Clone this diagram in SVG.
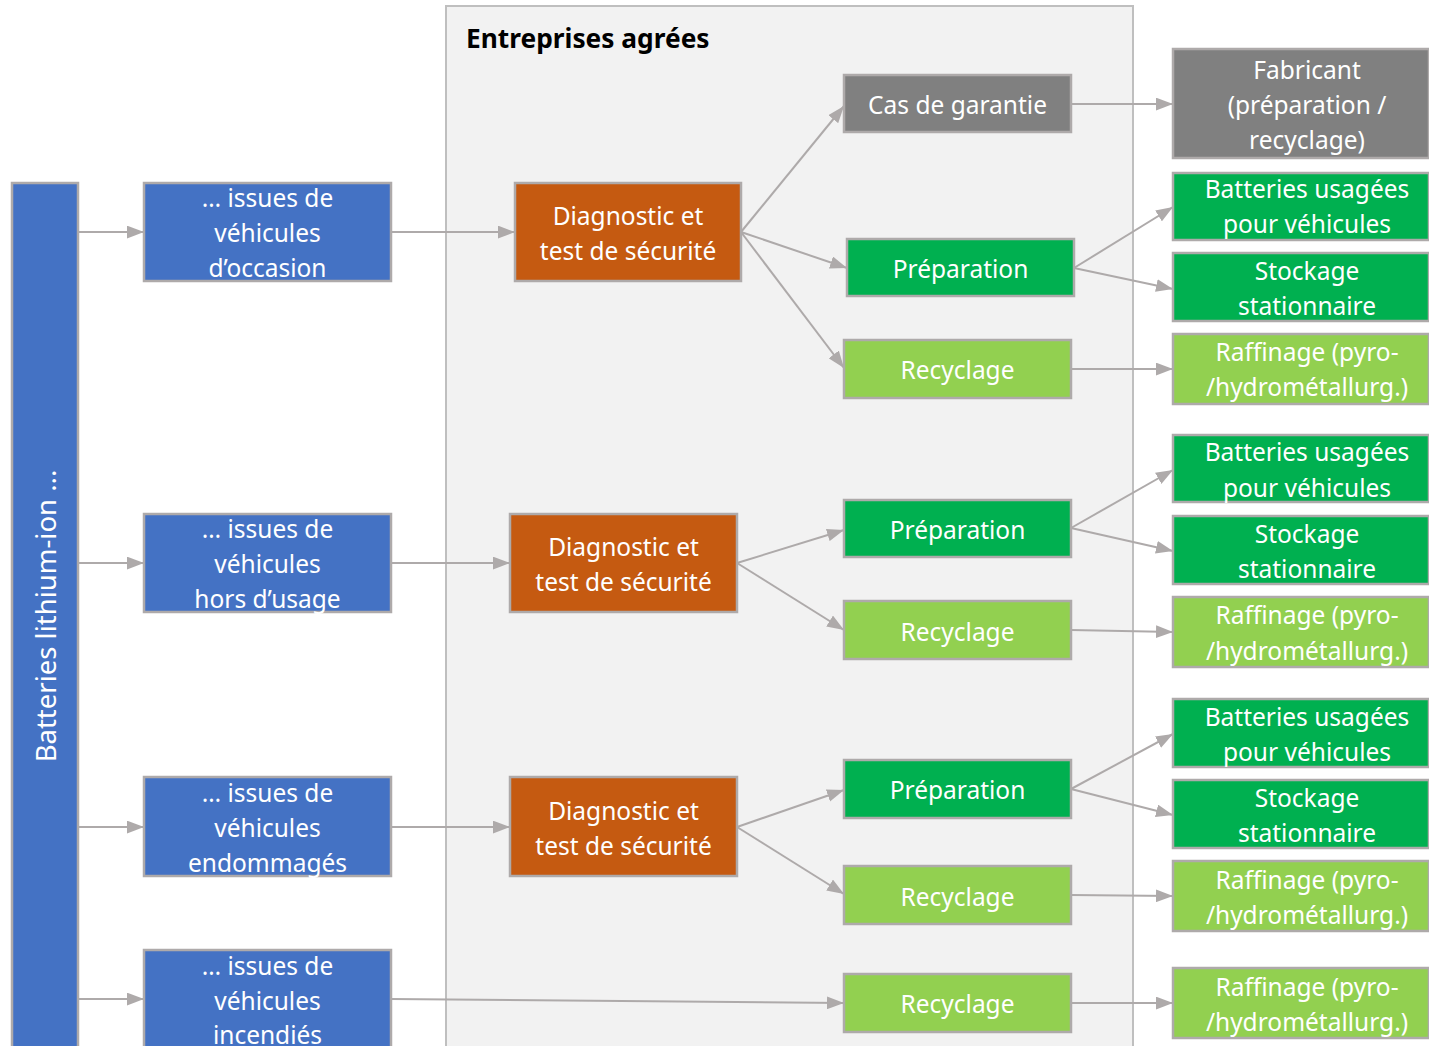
<svg xmlns="http://www.w3.org/2000/svg" width="1429" height="1046" viewBox="0 0 1429 1046">
<defs>
<marker id="ah" viewBox="0 0 16 12" refX="16" refY="6" markerWidth="8.5" markerHeight="6.5" markerUnits="strokeWidth" orient="auto">
<path d="M0,0 L16,6 L0,12 z" fill="#AEAAAA"/>
</marker>
<style>
.n rect{stroke:#AEAAAA;stroke-width:2.5}
.blue{fill:#4472C4}.org{fill:#C55A11}.grn{fill:#00B050}.lg{fill:#92D050}.gry{fill:#808080}
text{font-family:"Noto Sans","Open Sans","Liberation Sans",sans-serif;font-size:24.5px;fill:#FFFFFF;text-anchor:middle}
.title{font-weight:bold;fill:#000000;text-anchor:start;font-size:26.3px}
.rot{font-size:27.5px}
#connectors path{fill:none;stroke:#AEAAAA;stroke-width:2;marker-end:url(#ah)}
</style>
</defs>
<rect width="1429" height="1046" fill="#FFFFFF"/>
<g id="container">
<rect x="446" y="6" width="687" height="1050" fill="#F2F2F2" stroke="#BFBFBF" stroke-width="2"/>
<text class="title" x="466" y="48">Entreprises agrées</text>
</g>
<g id="connectors">
<path d="M78,232 H144"/>
<path d="M78,563 H144"/>
<path d="M78,827 H144"/>
<path d="M78,999 H144"/>
<path d="M391,232 H515"/>
<path d="M391,563 H510"/>
<path d="M391,827 H510"/>
<path d="M391,999 L844,1003"/>
<path d="M741,232 L844,106"/>
<path d="M741,232 L847,268"/>
<path d="M741,232 L844,368"/>
<path d="M737,563 L844,530"/>
<path d="M737,563 L844,630"/>
<path d="M737,827 L844,790"/>
<path d="M737,827 L844,894"/>
<path d="M1071,104 H1173"/>
<path d="M1074,268 L1173,207"/>
<path d="M1074,268 L1173,289"/>
<path d="M1071,369 H1173"/>
<path d="M1071,528 L1173,470"/>
<path d="M1071,528 L1173,551"/>
<path d="M1071,630 L1173,632"/>
<path d="M1071,789 L1173,734"/>
<path d="M1071,789 L1173,815"/>
<path d="M1071,895 L1173,896"/>
<path d="M1071,1003 H1173"/>
</g>
<g id="bar" class="n"><rect class="blue" x="12" y="183" width="66" height="880"/>
<text class="rot" transform="translate(56,616) rotate(-90)">Batteries lithium-ion ...</text></g>
<g id="src1" class="n"><rect class="blue" x="144" y="183" width="247" height="98"/>
<text x="267.5" y="207">… issues de</text><text x="267.5" y="242">véhicules</text><text x="267.5" y="277">d’occasion</text></g>
<g id="src2" class="n"><rect class="blue" x="144" y="514" width="247" height="98"/>
<text x="267.5" y="538">… issues de</text><text x="267.5" y="573">véhicules</text><text x="267.5" y="608">hors d’usage</text></g>
<g id="src3" class="n"><rect class="blue" x="144" y="777" width="247" height="99"/>
<text x="267.5" y="802">… issues de</text><text x="267.5" y="837">véhicules</text><text x="267.5" y="872">endommagés</text></g>
<g id="src4" class="n"><rect class="blue" x="144" y="950" width="247" height="110"/>
<text x="267.5" y="975">… issues de</text><text x="267.5" y="1010">véhicules</text><text x="267.5" y="1044">incendiés</text></g>
<g id="diag1" class="n"><rect class="org" x="515" y="183" width="226" height="98"/>
<text x="628" y="225">Diagnostic et</text><text x="628" y="260">test de sécurité</text></g>
<g id="diag2" class="n"><rect class="org" x="510" y="514" width="227" height="98"/>
<text x="623.5" y="556">Diagnostic et</text><text x="623.5" y="591">test de sécurité</text></g>
<g id="diag3" class="n"><rect class="org" x="510" y="777" width="227" height="99"/>
<text x="623.5" y="820">Diagnostic et</text><text x="623.5" y="855">test de sécurité</text></g>
<g id="garantie" class="n"><rect class="gry" x="844" y="75" width="227" height="57"/>
<text x="957.5" y="114">Cas de garantie</text></g>
<g id="prep1" class="n"><rect class="grn" x="847" y="239" width="227" height="57"/>
<text x="960.5" y="278">Préparation</text></g>
<g id="rec1" class="n"><rect class="lg" x="844" y="340" width="227" height="58"/>
<text x="957.5" y="379">Recyclage</text></g>
<g id="prep2" class="n"><rect class="grn" x="844" y="500" width="227" height="57"/>
<text x="957.5" y="539">Préparation</text></g>
<g id="rec2" class="n"><rect class="lg" x="844" y="601" width="227" height="58"/>
<text x="957.5" y="641">Recyclage</text></g>
<g id="prep3" class="n"><rect class="grn" x="844" y="760" width="227" height="58"/>
<text x="957.5" y="799">Préparation</text></g>
<g id="rec3" class="n"><rect class="lg" x="844" y="866" width="227" height="58"/>
<text x="957.5" y="906">Recyclage</text></g>
<g id="rec4" class="n"><rect class="lg" x="844" y="974" width="227" height="58"/>
<text x="957.5" y="1013">Recyclage</text></g>
<g id="fabricant" class="n"><rect class="gry" x="1173" y="49" width="256" height="109"/>
<text x="1307" y="79">Fabricant</text><text x="1307" y="114">(préparation /</text><text x="1307" y="149">recyclage)</text></g>
<g id="batt1" class="n"><rect class="grn" x="1173" y="173" width="256" height="67"/>
<text x="1307" y="198">Batteries usagées</text><text x="1307" y="233">pour véhicules</text></g>
<g id="stock1" class="n"><rect class="grn" x="1173" y="253" width="256" height="68"/>
<text x="1307" y="280">Stockage</text><text x="1307" y="315">stationnaire</text></g>
<g id="raff1" class="n"><rect class="lg" x="1173" y="334" width="256" height="70"/>
<text x="1307" y="361">Raffinage (pyro-</text><text x="1307" y="396">/hydrométallurg.)</text></g>
<g id="batt2" class="n"><rect class="grn" x="1173" y="435" width="256" height="67"/>
<text x="1307" y="461">Batteries usagées</text><text x="1307" y="497">pour véhicules</text></g>
<g id="stock2" class="n"><rect class="grn" x="1173" y="516" width="256" height="68"/>
<text x="1307" y="543">Stockage</text><text x="1307" y="578">stationnaire</text></g>
<g id="raff2" class="n"><rect class="lg" x="1173" y="597" width="256" height="70"/>
<text x="1307" y="624">Raffinage (pyro-</text><text x="1307" y="660">/hydrométallurg.)</text></g>
<g id="batt3" class="n"><rect class="grn" x="1173" y="699" width="256" height="68"/>
<text x="1307" y="726">Batteries usagées</text><text x="1307" y="761">pour véhicules</text></g>
<g id="stock3" class="n"><rect class="grn" x="1173" y="780" width="256" height="68"/>
<text x="1307" y="807">Stockage</text><text x="1307" y="842">stationnaire</text></g>
<g id="raff3" class="n"><rect class="lg" x="1173" y="861" width="256" height="70"/>
<text x="1307" y="889">Raffinage (pyro-</text><text x="1307" y="924">/hydrométallurg.)</text></g>
<g id="raff4" class="n"><rect class="lg" x="1173" y="968" width="256" height="70"/>
<text x="1307" y="996">Raffinage (pyro-</text><text x="1307" y="1031">/hydrométallurg.)</text></g>
</svg>
